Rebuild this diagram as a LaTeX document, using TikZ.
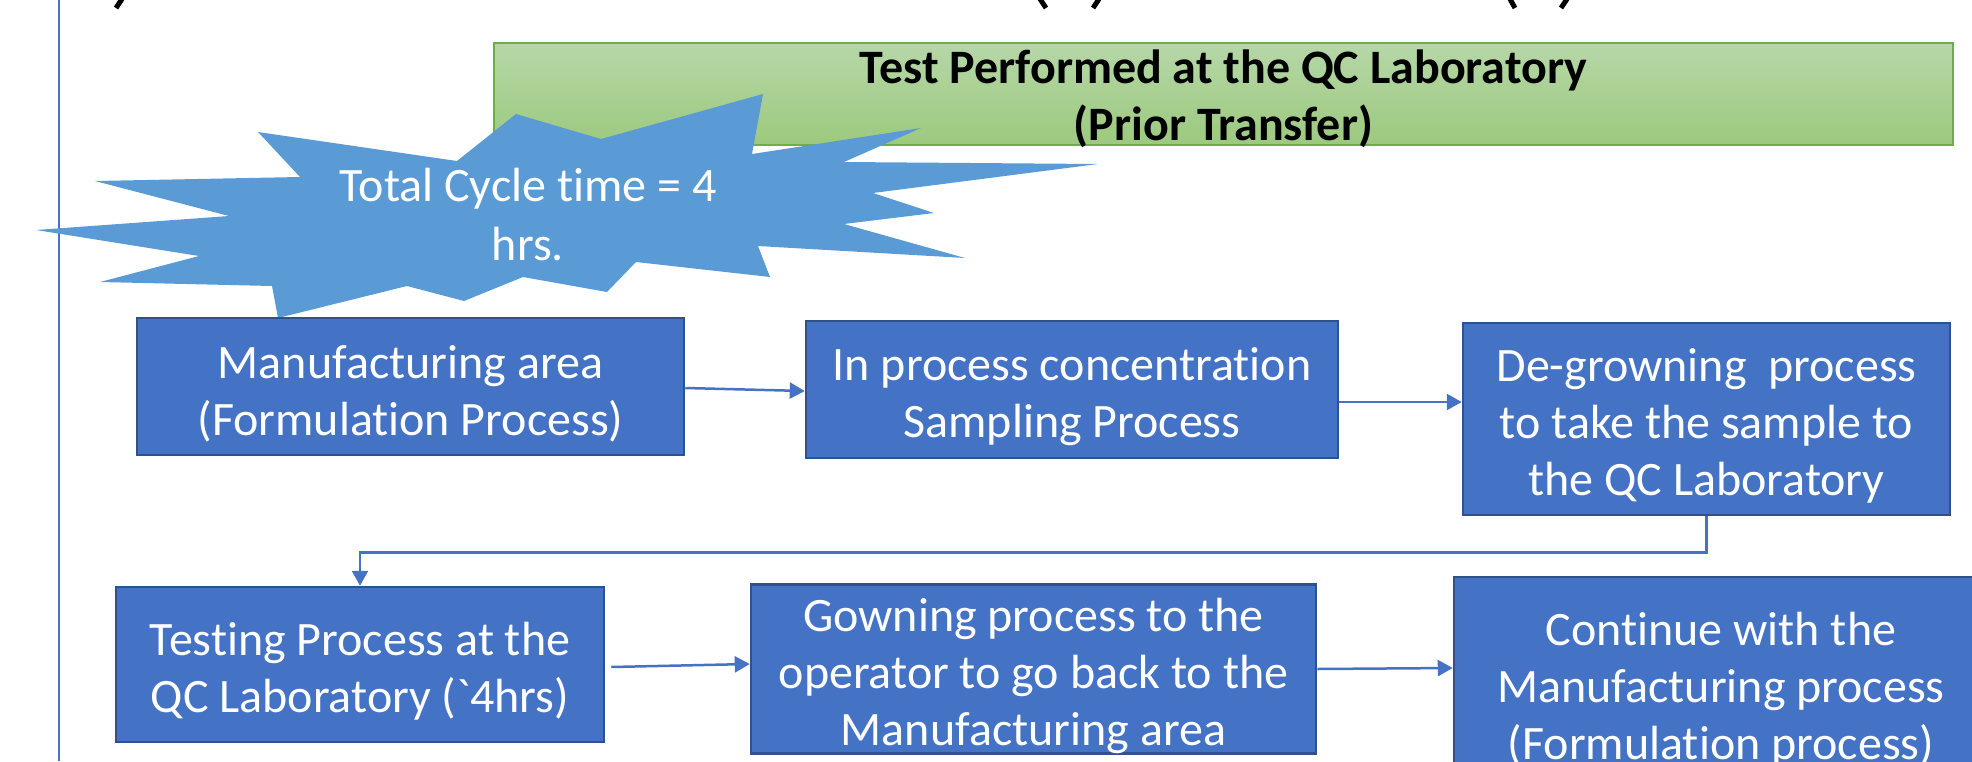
\documentclass[tikz,border=0pt]{standalone}
\usepackage{fontspec}
\setmainfont{Carlito}[Ligatures=NoCommon]
\usetikzlibrary{arrows.meta,calc}
\definecolor{boxblue}{HTML}{4472C4}
\definecolor{boxborder}{HTML}{2F528F}
\definecolor{starblue}{HTML}{5B9BD5}
\definecolor{greentop}{HTML}{B6D7A8}
\definecolor{greenbot}{HTML}{9CC97E}
\definecolor{greenborder}{HTML}{70AD47}
\newcommand{\gravechar}{{\XeTeXglyph\XeTeXcharglyph"60\relax}}
\newcommand{\topstrut}{\rule{0pt}{47pt}}
\begin{document}
\begin{tikzpicture}[x=1pt,y=-1pt,
  procbox/.style={draw=boxborder, line width=2.5pt, fill=boxblue, text=white,
    align=center, inner sep=0pt, font=\fontsize{48}{57}\selectfont},
  flow/.style={draw=boxblue, line width=2.5pt, -{Triangle[length=15pt,width=16pt]}},
  frag/.style={line width=5pt, black}]
\useasboundingbox (0,0) rectangle (1972,761);
\clip (0,0) rectangle (1972,761);
% left rule
\draw[boxblue, line width=1.3pt] (59,0) -- (59,761);
% fragments of cut-off text at top
\draw[frag] (122,-1) -- (116,8);
\draw[frag] (1040,-1) -- (1046,8);
\draw[frag] (1099,-1) -- (1093,8);
\draw[frag] (1510,-1) -- (1515,8);
\draw[frag] (1567,-1) -- (1561,8);
% green banner
\node[draw=greenborder, line width=1.5pt, top color=greentop, bottom color=greenbot,
  minimum width=1459pt, minimum height=102pt, inner sep=0pt] (banner) at (1223.5,94) {};
\node[font=\bfseries\fontsize{48}{57}\selectfont, align=center, inner sep=0pt] (bannertext) at (1223.5,99)
  {Test Performed at the QC Laboratory\\(Prior Transfer)};
% starburst
\fill[starblue] (763,94) -- (752,154) -- (921,128) -- (844,162) -- (1098,164) -- (873,193)
  -- (934,213) -- (844,224) -- (965,258) -- (758,246) -- (770,277) -- (636,262)
  -- (607,292) -- (523,277) -- (464,301) -- (407,286) -- (278,318) -- (272,286)
  -- (100,282) -- (199,256) -- (36,230) -- (229,216) -- (95,181) -- (300,177)
  -- (258,132) -- (457,161) -- (516,114) -- (601,139) -- cycle;
\node[text=white, font=\fontsize{48}{59}\selectfont, align=center, inner sep=0pt] (startext) at (528,215)
  {Total Cycle time = 4\\hrs.};
% process boxes
\node[procbox, minimum width=547pt, minimum height=137pt] (b1) at (410.5,386.5)
  {\topstrut Manufacturing area\\(Formulation Process)};
\node[procbox, minimum width=532pt, minimum height=137pt] (b2) at (1072,389.5)
  {\topstrut In process concentration\\Sampling Process};
\node[procbox, minimum width=487pt, minimum height=192pt] (b3) at (1706.5,419)
  {\topstrut De-growning\ \ process\\to take the sample to\\the QC Laboratory};
\node[procbox, minimum width=488pt, minimum height=155pt] (b4) at (360,664.5)
  {\topstrut Testing Process at the\\QC Laboratory (\gravechar4hrs)};
\node[procbox, minimum width=565pt, minimum height=168pt] (b5) at (1033.5,669)
  {\topstrut Gowning process to the\\operator to go back to the\\Manufacturing area};
\node[procbox, minimum width=534pt, minimum height=212pt] (b6) at (1721,683)
  {\topstrut Continue with the\\Manufacturing process\\(Formulation process)};
% connectors
\draw[flow] ([yshift=-1.5pt]b1.east) -- ([yshift=-1.5pt]b2.west);
\draw[flow] ([yshift=-12.5pt]b2.east) -- ([yshift=17pt]b3.west);
\draw[flow] (b3.south) -- ++(0,36) -| (b4.north);
\draw[flow] ([xshift=6pt,yshift=-2.5pt]b4.east) -- ([yshift=5pt]b5.west);
\draw[flow] (b5.east) -- ([yshift=15pt]b6.west);
\end{tikzpicture}
\end{document}
